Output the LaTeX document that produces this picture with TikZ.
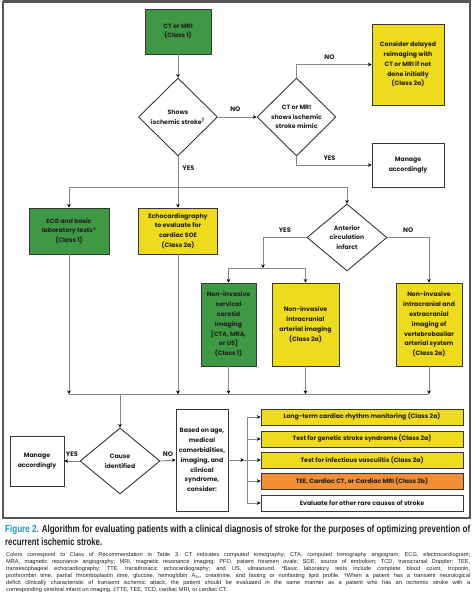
\documentclass[tikz,border=0pt]{standalone}
\usepackage{fontspec}
\usepackage{graphicx}
\setmainfont{Liberation Sans}
\newfontfamily\boxfont{Poppins}
\usetikzlibrary{shapes.geometric,arrows.meta,calc}
\definecolor{cgreen}{RGB}{62,152,68}
\definecolor{cyellow}{RGB}{238,219,30}
\definecolor{corange}{RGB}{242,142,52}
\definecolor{cborder}{RGB}{55,55,55}
\definecolor{cline}{RGB}{135,135,135}
\definecolor{ctext}{RGB}{35,31,32}
\definecolor{cteal}{RGB}{30,150,185}
\definecolor{cframe}{RGB}{85,85,85}
\begin{document}
\begin{tikzpicture}[x=1pt,y=-1pt,
  box/.style={draw=cborder, line width=0.9pt, inner sep=0pt, align=center,
    font=\boxfont\bfseries\fontsize{6.2}{9.8}\selectfont, text=ctext},
  dia/.style={diamond, draw=cborder, line width=0.9pt, fill=white, inner sep=0pt, align=center,
    font=\boxfont\bfseries\fontsize{6.2}{9.8}\selectfont, text=ctext},
  rowbox/.style={box, minimum width=202pt, minimum height=16pt},
  conn/.style={draw=cline, line width=0.9pt},
  arr/.style={conn, -{Stealth[length=3.6pt,width=3.6pt,color=black]}},
  lbl/.style={font=\boxfont\bfseries\fontsize{6.6}{8}\selectfont, text=ctext, inner sep=0pt}
]
\useasboundingbox (0,0) rectangle (474,601);
% frame
\draw[cframe, line width=1.1pt] (3,2) rectangle (470,518);
\draw[cframe, line width=2.5pt] (2.5,1.3) -- (470.5,1.3);

% nodes
\node[box, fill=cgreen, minimum width=66pt, minimum height=45pt] (ct) at (178,31.5) {CT or MRI\\(Class 1)};
\node[dia, minimum width=79pt, minimum height=78pt] (d1) at (178,117) {Shows\\ischemic stroke\textsuperscript{\dag}};
\node[dia, minimum width=79pt, minimum height=78pt] (d2) at (296.5,117) {CT or MRI\\shows ischemic\\stroke mimic};
\node[box, fill=cyellow, minimum width=72pt, minimum height=81pt] (delay) at (408,64.5) {Consider delayed\\reimaging with\\CT or MRI if not\\done initially\\(Class 2a)};
\node[box, fill=white, minimum width=72pt, minimum height=44pt] (man1) at (408,165) {Manage\\accordingly};
\node[box, fill=cgreen, minimum width=80pt, minimum height=46pt] (ecg) at (69,231) {ECG and basic\\laboratory tests*\\(Class 1)};
\node[box, fill=cyellow, minimum width=79pt, minimum height=46pt] (echo) at (178,231) {Echocardiography\\to evaluate for\\cardiac SOE\\(Class 2a)};
\node[dia, minimum width=80pt, minimum height=67pt] (d3) at (347,237.5) {Anterior\\circulation\\infarct};
\node[box, fill=cgreen, minimum width=55pt, minimum height=83pt] (car) at (228.5,324.5) {Non-invasive\\cervical\\carotid\\imaging\\{[}CTA, MRA,\\or US{]}\\(Class 1)};
\node[box, fill=cyellow, minimum width=67pt, minimum height=83pt] (intra) at (305.5,324.5) {Non-invasive\\intracranial\\arterial imaging\\(Class 2a)};
\node[box, fill=cyellow, minimum width=66pt, minimum height=83pt] (vert) at (429,324.5) {Non-invasive\\intracranial and\\extracranial\\imaging of\\vertebrobasilar\\arterial system\\(Class 2a)};
\node[dia, minimum width=80pt, minimum height=66pt] (d4) at (120,461) {Cause\\identified};
\node[box, fill=white, minimum width=54pt, minimum height=50pt] (man2) at (37,461) {Manage\\accordingly};
\node[box, fill=white, minimum width=52pt, minimum height=102pt] (based) at (202,460) {Based on age,\\medical\\comorbidities,\\imaging, and\\clinical\\syndrome,\\consider:};
\node[rowbox, fill=cyellow] (r1) at (362,417) {Long-term cardiac rhythm monitoring (Class 2a)};
\node[rowbox, fill=cyellow] (r2) at (362,439) {Test for genetic stroke syndrome (Class 2a)};
\node[rowbox, fill=cyellow] (r3) at (362,460) {Test for infectious vasculitis (Class 2a)};
\node[rowbox, fill=corange] (r4) at (362,481) {TEE, Cardiac CT, or Cardiac MRI (Class 2b)};
\node[rowbox, fill=white] (r5) at (362,503) {Evaluate for other rare causes of stroke};

% coordinates
\coordinate (bus1) at (178,187);
\coordinate (bus2) at (263,268);
\coordinate (bus3) at (120,394);
\coordinate (bus4a) at (244,460);
\coordinate (bus4) at (247,460);

% connectors
\draw[arr] (ct) -- (d1);
\draw[arr] (d1) -- (d2) node[lbl, pos=0.45, above=5pt] {NO};
\draw[arr] (d2.north) |- (delay.west) node[lbl, pos=0.72, above=4pt] {NO};
\draw[arr] (d2.south) |- (man1.west) node[lbl, pos=0.72, above=4pt] {YES};
\draw[conn] (d1.south) -- (bus1) node[lbl, pos=0.4, right=4pt] {YES};
\draw[arr] (bus1) -| (ecg.north);
\draw[arr] (bus1) -- (echo.north);
\draw[arr] (bus1) -| (d3.north);
\draw[arr] (d3.west) -| (bus2) node[lbl, pos=0.25, above=5pt] {YES};
\draw[arr] (bus2) -| (car.north);
\draw[arr] (bus2) -| (intra.north);
\draw[arr] (d3.east) -| (vert.north) node[lbl, pos=0.25, above=5pt] {NO};
\draw[arr] (ecg.south) -- (ecg.south |- bus3);
\draw[arr] (echo.south) -- (echo.south |- bus3);
\draw[arr] (car.south) -- (car.south |- bus3);
\draw[arr] (intra.south) -- (intra.south |- bus3);
\draw[arr] (vert.south) -- (vert.south |- bus3);
\draw[conn] (ecg.south |- bus3) -- (vert.south |- bus3);
\draw[arr] (bus3) -- (d4.north);
\draw[arr] (d4.west) -- (man2.east) node[lbl, midway, above=4pt] {YES};
\draw[arr] (d4.east) -- (based.west) node[lbl, midway, above=4pt] {NO};
\draw[arr] (based.east) -- (bus4a);
\draw[conn] (bus4a) -- (bus4);
\draw[conn] (bus4 |- r1) -- (bus4 |- r5);
\draw[arr] (bus4 |- r1) -- (r1.west);
\draw[arr] (bus4 |- r2) -- (r2.west);
\draw[arr] (bus4) -- (r3.west);
\draw[arr] (bus4 |- r4) -- (r4.west);
\draw[arr] (bus4 |- r5) -- (r5.west);

% caption
\node[anchor=west, inner sep=0pt, text=ctext] (cap1) at (5,530) {\resizebox{465pt}{\height}{\fontsize{10.2}{12}\selectfont\bfseries\textcolor{cteal}{Figure 2.} Algorithm for evaluating patients with a clinical diagnosis of stroke for the purposes of optimizing prevention of}};
\node[anchor=west, inner sep=0pt, text=ctext] (cap2) at (5,542) {\resizebox{97pt}{\height}{\fontsize{10.2}{12}\selectfont\bfseries recurrent ischemic stroke.}};
\node[anchor=north west, inner sep=0pt, text=ctext] (body) at (6,552.5) {\parbox{464pt}{\frenchspacing\fontsize{5.65}{7}\selectfont
Colors correspond to Class of Recommendation in Table 3. CT indicates computed tomography; CTA, computed tomography angiogram; ECG, electrocardiogram;\linebreak
MRA, magnetic resonance angiography; MRI, magnetic resonance imaging; PFO, patient foramen ovale; SOE, source of embolism; TCD, transcranial Doppler; TEE,\linebreak
transesophageal echocardiography; TTE, transthoracic echocardiography; and US, ultrasound. *Basic laboratory tests include complete blood count, troponin,\linebreak
prothrombin time, partial thromboplastin time, glucose, hemoglobin A\textsubscript{1c}, creatinine, and fasting or nonfasting lipid profile. \dag When a patient has a transient neurological\linebreak
deficit clinically characteristic of transient ischemic attack, the patient should be evaluated in the same manner as a patient who has an ischemic stroke with a\linebreak
corresponding cerebral infarct on imaging. \ddag TTE, TEE, TCD, cardiac MRI, or cardiac CT.}};
\end{tikzpicture}
\end{document}
